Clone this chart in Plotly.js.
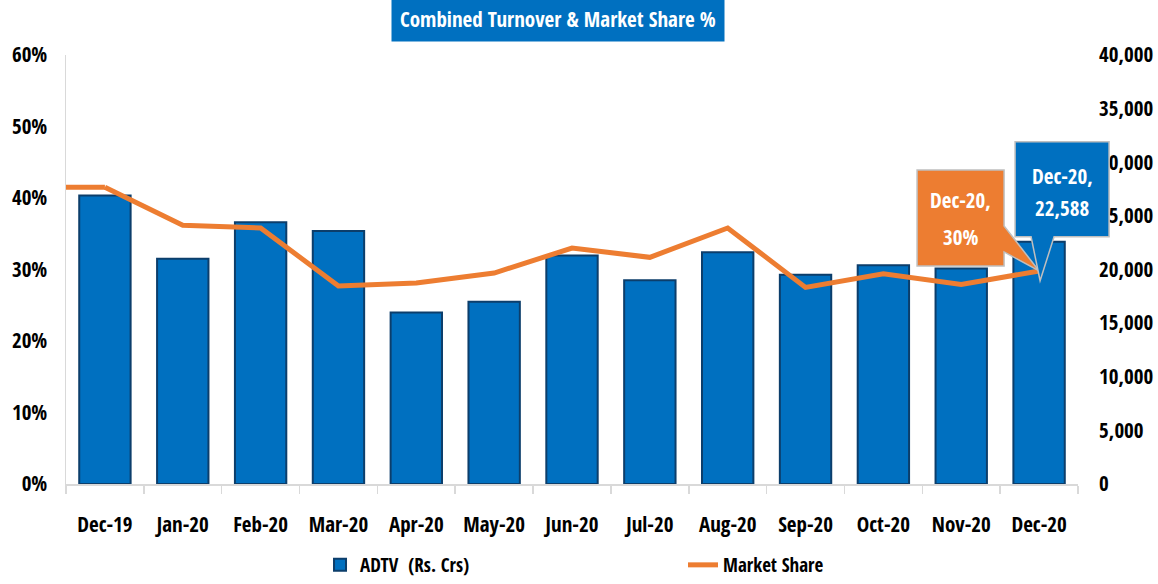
<!DOCTYPE html>
<html>
<head>
<meta charset="utf-8">
<script src="https://cdn.plot.ly/plotly-3.0.1.min.js"></script>
<style>
html,body{margin:0;padding:0;background:#fff;}
#chart{width:1158px;height:584px;}
</style>
</head>
<body>
<div id="chart"></div>
<script>
const categories = ['Dec-19','Jan-20','Feb-20','Mar-20','Apr-20','May-20','Jun-20','Jul-20','Aug-20','Sep-20','Oct-20','Nov-20','Dec-20'];
const adtv = [26900, 21000, 24400, 23600, 16000, 17000, 21300, 19000, 21600, 19500, 20400, 20100, 22588];
const marketShare = [41.5, 36.2, 35.8, 27.7, 28.1, 29.5, 33.0, 31.7, 35.8, 27.5, 29.4, 27.9, 29.8];
const leftTicks = [0, 10, 20, 30, 40, 50, 60];
const rightTicks = [0, 5000, 10000, 15000, 20000, 25000, 30000, 35000, 40000];

const FONT = '"Open Sans Condensed", "Open Sans", "Liberation Sans", sans-serif';
const BLUE = '#0070C0';
const ORANGE = '#ED7D31';
const last = categories.length - 1;
const lastPaperX = (last + 0.5) / categories.length;

const bold = (size, color) => ({family: FONT, size: size, color: color || '#000', weight: 'bold'});

const bars = {
  type: 'bar', x: categories, y: adtv, yaxis: 'y', name: 'ADTV\u00a0\u00a0(Rs. Crs)',
  marker: {color: BLUE, line: {color: '#0C3E6B', width: 2}}
};
const line = {
  type: 'scatter', mode: 'lines', x: categories, y: marketShare, yaxis: 'y2', name: 'Market Share',
  line: {color: ORANGE, width: 5}
};

const fmt = v => v.toLocaleString('en-US');

const layout = {
  width: 1158, height: 584,
  margin: {l: 66, r: 80, t: 55, b: 100, autoexpand: false},
  paper_bgcolor: '#fff', plot_bgcolor: '#fff',
  font: bold(21),
  bargap: 0.34,
  showlegend: true,
  legend: {orientation: 'h', x: 0.251, y: -0.1888, xanchor: 'left', yanchor: 'middle',
           entrywidth: 318, entrywidthmode: 'pixels', font: bold(19), bgcolor: 'rgba(0,0,0,0)'},
  xaxis: {type: 'category', tickson: 'boundaries', ticks: 'outside', ticklen: 8, tickcolor: '#D9D9D9', tickwidth: 1.5,
          showline: true, linecolor: '#D9D9D9', linewidth: 1.5, showgrid: false, zeroline: false,
          tickfont: bold(21), ticklabelstandoff: 21, tickangle: 0,
          range: [-0.5, last + 0.5]},
  yaxis: {side: 'right', range: [0, 40000], tickvals: rightTicks, ticktext: rightTicks.map(fmt),
          showgrid: false, zeroline: false, showline: false, ticks: '',
          tickfont: bold(21), ticklabelstandoff: 20},
  yaxis2: {overlaying: 'y', side: 'left', range: [0, 60], tickvals: leftTicks, ticktext: leftTicks.map(v => v + '%'),
           showgrid: false, zeroline: false, showline: true, linecolor: '#D9D9D9', linewidth: 1.5, ticks: '',
           tickfont: bold(21), ticklabelstandoff: 13},
  shapes: [
    {type: 'line', xref: 'x', yref: 'y2', x0: -0.5, x1: 0, y0: marketShare[0], y1: marketShare[0],
     line: {color: ORANGE, width: 5}, layer: 'above'},
    {type: 'path', xref: 'paper', yref: 'y2', xsizemode: 'pixel', ysizemode: 'pixel',
     xanchor: lastPaperX, yanchor: marketShare[last],
     path: 'M -122,101 L -35,101 L -35,45 L 0,0 L -35,19 L -35,5 L -122,5 Z',
     fillcolor: ORANGE, line: {color: '#BFBFBF', width: 1.5}, layer: 'above'},
    {type: 'path', xref: 'paper', yref: 'y', xsizemode: 'pixel', ysizemode: 'pixel',
     xanchor: lastPaperX, yanchor: adtv[last],
     path: 'M -24,100 L 70,100 L 70,5 L 15,5 L 1,-39 L -8,5 L -24,5 Z',
     fillcolor: BLUE, line: {color: '#BFBFBF', width: 1.5}, layer: 'above'}
  ],
  annotations: [
    {xref: 'paper', yref: 'paper', x: 0.4857, y: 1.0839, xanchor: 'center', yanchor: 'middle', showarrow: false,
     text: 'Combined Turnover &amp; Market Share %', bgcolor: BLUE, borderpad: 8, font: bold(21, '#fff')},
    {xref: 'x', yref: 'y2', x: categories[last], y: marketShare[last], xshift: -79, yshift: 71, showarrow: false,
     text: categories[last] + ',', font: bold(21, '#fff')},
    {xref: 'x', yref: 'y2', x: categories[last], y: marketShare[last], xshift: -79, yshift: 34, showarrow: false,
     text: Math.round(marketShare[last]) + '%', font: bold(21, '#fff')},
    {xref: 'x', yref: 'y', x: categories[last], y: adtv[last], xshift: 23, yshift: 66, showarrow: false,
     text: categories[last] + ',', font: bold(21, '#fff')},
    {xref: 'x', yref: 'y', x: categories[last], y: adtv[last], xshift: 23, yshift: 34, showarrow: false,
     text: fmt(adtv[last]), font: bold(21, '#fff')}
  ]
};

Plotly.newPlot('chart', [bars, line], layout, {displayModeBar: false, staticPlot: true});
</script>
</body>
</html>
